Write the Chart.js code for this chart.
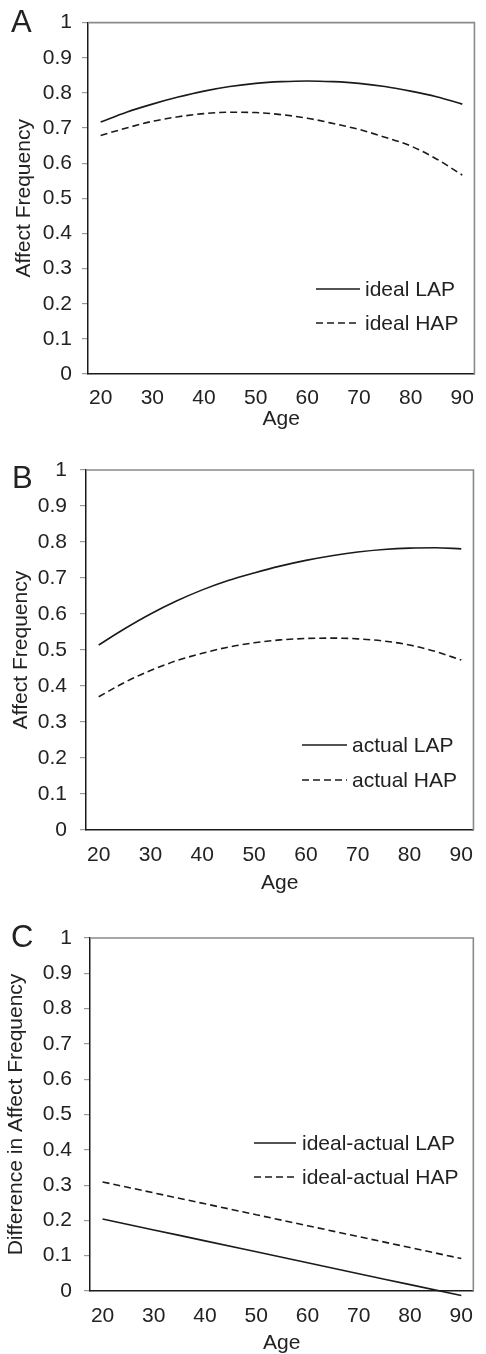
<!DOCTYPE html>
<html>
<head>
<meta charset="utf-8">
<script src="https://cdn.jsdelivr.net/npm/chart.js@4.4.1/dist/chart.umd.min.js"></script>
<style>
  html, body { margin: 0; padding: 0; background: #fff; overflow: hidden; width: 486px; height: 1354px; }
  canvas { position: absolute; left: 0; }
</style>
</head>
<body>
<canvas id="cA" width="486" height="440" style="top:0px"></canvas>
<canvas id="cB" width="486" height="465" style="top:440px"></canvas>
<canvas id="cC" width="486" height="475" style="top:890px"></canvas>
<script>
// ---- data ----
const ages = [20, 25, 30, 35, 40, 45, 50, 55, 60, 65, 70, 75, 80, 85, 90];
const idealLAP  = [0.717, 0.745, 0.768, 0.788, 0.805, 0.818, 0.827, 0.832, 0.834, 0.832, 0.827, 0.818, 0.805, 0.789, 0.768];
const idealHAP  = [0.679, 0.700, 0.719, 0.732, 0.741, 0.745, 0.744, 0.738, 0.728, 0.713, 0.696, 0.674, 0.649, 0.612, 0.566];
const actualLAP = [0.514, 0.559, 0.600, 0.636, 0.667, 0.693, 0.714, 0.733, 0.749, 0.762, 0.772, 0.779, 0.783, 0.784, 0.781];
const actualHAP = [0.370, 0.410, 0.443, 0.470, 0.491, 0.508, 0.520, 0.528, 0.532, 0.533, 0.531, 0.525, 0.514, 0.496, 0.472];
const diffAges = [20, 30, 40, 50, 60, 70, 80, 90];
const diffLAP = [0.204, 0.173, 0.142, 0.111, 0.080, 0.049, 0.018, -0.013];
const diffHAP = [0.309, 0.278, 0.247, 0.216, 0.185, 0.154, 0.123, 0.092];
const xTickLabels = [20, 30, 40, 50, 60, 70, 80, 90];
const yTickStep = 0.1;

const FONT = "'Liberation Sans', Arial, sans-serif";
const FS = 21;
const TEXT = '#222';
const INK = '#1a1a1a';

function pts(xs, ys) { return xs.map((x, i) => ({ x: x, y: ys[i] })); }

const frameAndLegend = {
  id: 'frameAndLegend',
  beforeDatasetsDraw(chart, args, o) {
    const { ctx, chartArea: a } = chart;
    ctx.save();
    ctx.strokeStyle = '#8a8a8a';
    ctx.lineWidth = 1.6;
    ctx.beginPath();
    ctx.moveTo(a.left, a.top); ctx.lineTo(a.right, a.top); ctx.lineTo(a.right, a.bottom);
    ctx.stroke();
    ctx.restore();
  },
  afterDraw(chart, args, o) {
    const { ctx } = chart;
    ctx.save();
    ctx.fillStyle = TEXT;
    ctx.font = '31px ' + FONT;
    ctx.textBaseline = 'alphabetic';
    ctx.textAlign = 'left';
    ctx.fillText(o.letter, o.letterX, o.letterY);
    ctx.font = FS + 'px ' + FONT;
    ctx.textBaseline = 'middle';
    chart.data.datasets.forEach((ds, i) => {
      const y = o.legendY[i];
      ctx.strokeStyle = ds.borderColor;
      ctx.lineWidth = ds.borderWidth;
      ctx.setLineDash(ds.borderDash || []);
      ctx.beginPath();
      ctx.moveTo(o.legendX0, y); ctx.lineTo(o.legendX1, y);
      ctx.stroke();
      ctx.setLineDash([]);
      ctx.fillStyle = TEXT;
      ctx.fillText(ds.label, o.legendText, y + 1);
    });
    ctx.restore();
  }
};

function makePanel(id, cfg) {
  const H = cfg.H;
  return new Chart(document.getElementById(id), {
    type: 'line',
    data: {
      datasets: [
        { label: cfg.labels[0], data: pts(cfg.xs, cfg.s1), borderColor: INK, borderWidth: 1.6,
          pointRadius: 0, tension: 0.4, cubicInterpolationMode: 'monotone', clip: false, fill: false },
        { label: cfg.labels[1], data: pts(cfg.xs, cfg.s2), borderColor: INK, borderWidth: 1.6, borderDash: [7, 4],
          pointRadius: 0, tension: 0.4, cubicInterpolationMode: 'monotone', clip: false, fill: false }
      ]
    },
    options: {
      responsive: false,
      animation: false,
      devicePixelRatio: 1,
      layout: { padding: { top: cfg.plotTop, right: 1, bottom: 0, left: 0 } },
      plugins: {
        legend: { display: false },
        tooltip: { enabled: false },
        frameAndLegend: cfg.deco
      },
      scales: {
        x: {
          type: 'linear',
          min: 17.55, max: 92.35,
          afterBuildTicks: s => { s.ticks = xTickLabels.map(v => ({ value: v })); },
          afterFit: s => { s.height = H - cfg.plotBottom; },
          grid: { display: false, drawTicks: false },
          border: { display: true, color: INK, width: 1.5 },
          ticks: { color: TEXT, font: { family: FONT, size: FS }, padding: cfg.xTickPad, maxRotation: 0, autoSkip: false },
          title: { display: true, text: 'Age', color: TEXT, font: { family: FONT, size: FS },
                   padding: { top: 0, bottom: cfg.xTitlePad } }
        },
        y: {
          min: 0, max: 1,
          afterFit: s => { s.width = cfg.left; },
          grid: { drawOnChartArea: false, drawTicks: true, tickLength: 6, color: '#999', lineWidth: 1.2 },
          border: { display: true, color: INK, width: 1.5 },
          ticks: { stepSize: yTickStep, color: TEXT, font: { family: FONT, size: FS }, padding: cfg.yTickPad,
                   callback: v => String(Number(v.toFixed(1))) },
          title: { display: true, text: cfg.yTitle, color: TEXT, font: { family: FONT, size: FS },
                   padding: { top: cfg.yTitlePad, bottom: 0 } }
        }
      }
    },
    plugins: [frameAndLegend]
  });
}

makePanel('cA', {
  H: 440, plotTop: 16, plotBottom: 374, left: 88, xTickPad: 12, xTitlePad: 8, yTickPad: 10, yTitlePad: 12,
  xs: ages, s1: idealLAP, s2: idealHAP, labels: ['ideal LAP', 'ideal HAP'], yTitle: 'Affect Frequency',
  deco: { letter: 'A', letterX: 11, letterY: 32, legendX0: 316, legendX1: 360, legendText: 365, legendY: [289, 323] }
});
makePanel('cB', {
  H: 465, plotTop: 30, plotBottom: 390, left: 86, xTickPad: 13, xTitlePad: 9, yTickPad: 13, yTitlePad: 9,
  xs: ages, s1: actualLAP, s2: actualHAP, labels: ['actual LAP', 'actual HAP'], yTitle: 'Affect Frequency',
  deco: { letter: 'B', letterX: 12, letterY: 48, legendX0: 302, legendX1: 347, legendText: 352, legendY: [305, 340] }
});
makePanel('cC', {
  H: 475, plotTop: 48, plotBottom: 401, left: 90, xTickPad: 13, xTitlePad: 9, yTickPad: 12, yTitlePad: 4,
  xs: diffAges, s1: diffLAP, s2: diffHAP, labels: ['ideal-actual LAP', 'ideal-actual HAP'], yTitle: 'Difference in Affect Frequency',
  deco: { letter: 'C', letterX: 11, letterY: 57, legendX0: 254, legendX1: 296, legendText: 302, legendY: [253, 287] }
});
</script>
</body>
</html>
